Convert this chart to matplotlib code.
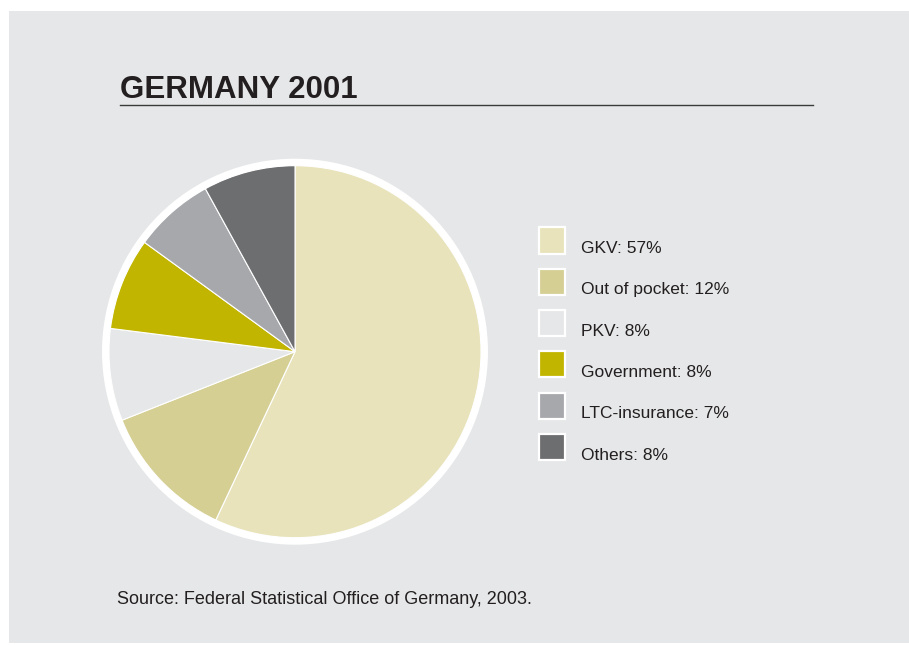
import matplotlib
matplotlib.use('Agg')
import matplotlib.pyplot as plt
from matplotlib import font_manager
from matplotlib.patches import Rectangle, Circle

# Health expenditure by payer, Germany 2001 (percent)
labels = ['GKV', 'Out of pocket', 'PKV', 'Government', 'LTC-insurance', 'Others']
shares = [57, 12, 8, 8, 7, 8]
colors = ['#e8e3bb', '#d5cf94', '#e6e7e8', '#c2b500', '#a7a8ab', '#6d6e70']

title = 'GERMANY 2001'
source = 'Source: Federal Statistical Office of Germany, 2003.'

W, H = 909, 645
BG = '#e6e7e8'

installed = {f.name for f in font_manager.fontManager.ttflist}
if 'Liberation Sans Narrow' in installed:
    legend_font, legend_size = 'Liberation Sans Narrow', 15
else:
    legend_font, legend_size = 'Liberation Sans', 12.5
plt.rcParams['font.family'] = ['Liberation Sans', 'DejaVu Sans']


def fx(px):
    return px / W


def fy(py):
    # pixel row measured from the top
    return 1 - py / H


fig = plt.figure(figsize=(W / 100, H / 100), dpi=100, facecolor='white')

# grey panel, kept behind the pie axes
fig.patches.append(Rectangle((fx(9), fy(643)), fx(900), (643 - 11) / H,
                             transform=fig.transFigure, facecolor=BG,
                             edgecolor='none', zorder=-10))

# title and rule underneath
fig.text(fx(120), fy(97.5), title, fontsize=22.5, fontweight='bold',
         color='#231f20', va='baseline', ha='left')
fig.add_artist(plt.Line2D([fx(120), fx(813)], [fy(105), fy(105)],
                          transform=fig.transFigure, color='#3a3a3a', lw=1.0))

# pie
cx, cy, r = 295, 351.7, 186
ax = fig.add_axes([fx(cx - r), fy(cy + r), 2 * r / W, 2 * r / H])
ax.set_zorder(5)
ax.patch.set_visible(False)
ax.pie(shares, colors=colors, startangle=90, counterclock=False, radius=1,
       wedgeprops=dict(edgecolor='white', linewidth=0.8))
ring = Circle((0, 0), 1 + 3.5 / r, facecolor='none', edgecolor='white',
              linewidth=5.0, clip_on=False)
ax.add_patch(ring)
# pie() pads the limits, so pin radius 1 to the axes edge afterwards
ax.set_xlim(-1, 1)
ax.set_ylim(-1, 1)
ax.set_aspect('equal')
ax.axis('off')

# legend
box_x, box_top, box_size, row_step = 539, 227.5, 26, 41.3
for i, (lab, val, col) in enumerate(zip(labels, shares, colors)):
    top = box_top + i * row_step
    fig.patches.append(Rectangle((fx(box_x), fy(top + box_size)),
                                 box_size / W, box_size / H,
                                 transform=fig.transFigure, facecolor=col,
                                 edgecolor='white', linewidth=1.6))
    fig.text(fx(581), fy(top + box_size - 0.5), f'{lab}: {val}%',
             fontsize=legend_size, family=[legend_font, 'DejaVu Sans'],
             color='#231f20', va='baseline', ha='left')

fig.text(fx(117), fy(604), source, fontsize=13, color='#231f20',
         va='baseline', ha='left')

fig.savefig('out.png', dpi=100, facecolor='white')
